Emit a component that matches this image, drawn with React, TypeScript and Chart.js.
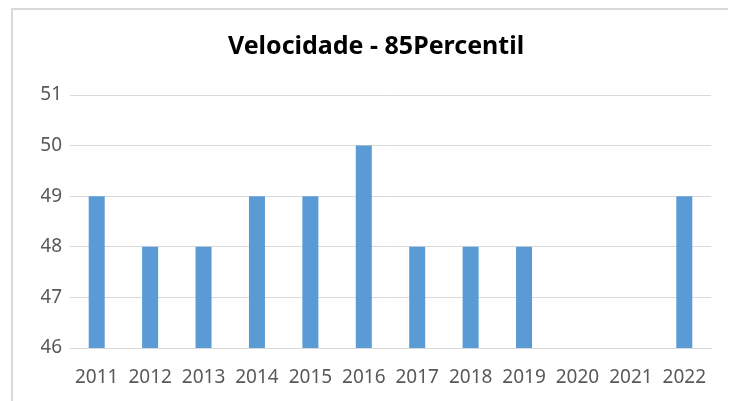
import React, { useEffect, useRef } from "react";
import { Chart, registerables } from "chart.js";

Chart.register(...registerables);

const titleText = "Velocidade - 85Percentil";
const years = ["2011", "2012", "2013", "2014", "2015", "2016", "2017", "2018", "2019", "2020", "2021", "2022"];
const speeds: (number | null)[] = [49, 48, 48, 49, 49, 50, 48, 48, 48, null, null, 49];
const yMin = 46;
const yMax = 51;

export default function App() {
  const ref = useRef<HTMLCanvasElement | null>(null);
  useEffect(() => {
    document.body.style.overflow = "hidden";
    document.documentElement.style.overflow = "hidden";
    const ctx = ref.current!;
    const chart = new Chart(ctx, {
      type: "bar",
      data: {
        labels: years,
        datasets: [
          {
            data: speeds,
            backgroundColor: "#5B9BD5",
            barPercentage: 0.3,
            categoryPercentage: 1,
          },
        ],
      },
      options: {
        animation: false,
        responsive: false,
        maintainAspectRatio: false,
        layout: { padding: { left: 28, right: 25, top: 0, bottom: 0 } },
        plugins: {
          legend: { display: false },
          tooltip: { enabled: false },
          title: {
            display: true,
            text: titleText,
            color: "#000000",
            font: { family: "'Noto Sans', sans-serif", size: 25, weight: "bold", lineHeight: 1.2 },
            padding: { top: 22, bottom: 33 },
          },
        },
        scales: {
          x: {
            grid: { display: false, drawTicks: false },
            border: { display: true, color: "#d9d9d9", width: 1 },
            ticks: {
              color: "#595959",
              font: { family: "'Noto Sans', sans-serif", size: 19 },
              padding: 18,
              maxRotation: 0,
              autoSkip: false,
            },
            afterFit: (s: any) => {
              s.height = 53;
            },
          },
          y: {
            min: yMin,
            max: yMax,
            grid: { color: "#d9d9d9", drawTicks: false },
            border: { display: false },
            ticks: {
              stepSize: 1,
              color: "#595959",
              font: { family: "'Noto Sans', sans-serif", size: 19 },
              padding: 8,
            },
            afterFit: (s: any) => {
              s.width = 29;
            },
          },
        },
      },
    });
    return () => chart.destroy();
  }, []);
  return (
    <div
      style={{
        marginLeft: 3,
        width: 800,
        height: 391,
        borderTop: "2px solid #d9d9d9",
        borderLeft: "2px solid #d9d9d9",
        background: "#fff",
      }}
    >
      <canvas ref={ref} width={723} height={391} style={{ display: "block" }} />
    </div>
  );
}
